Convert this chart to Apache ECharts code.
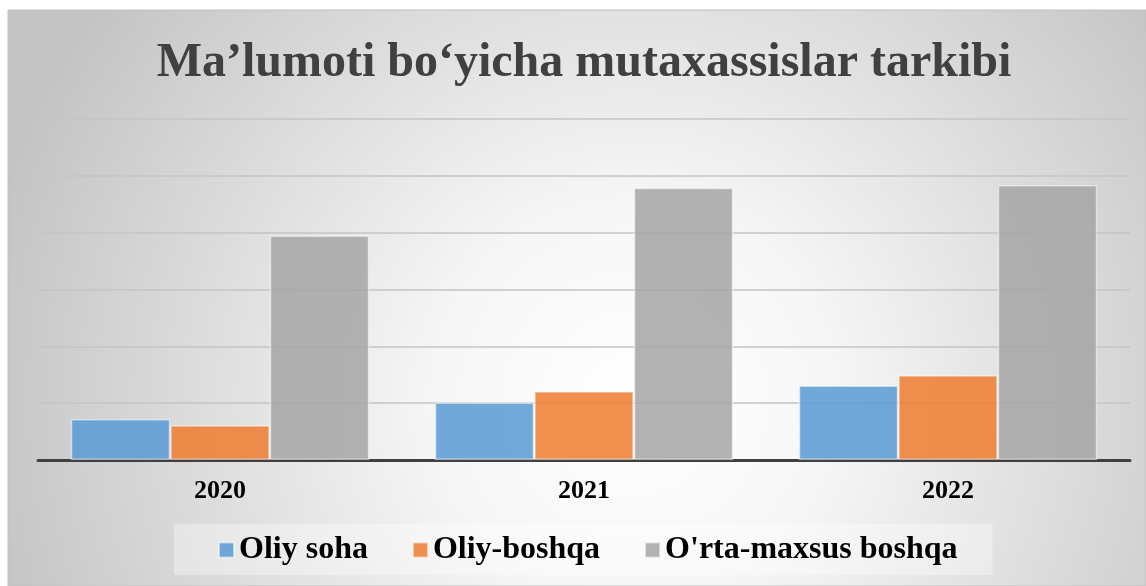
<!DOCTYPE html>
<html>
<head>
<meta charset="utf-8">
<script src="https://cdn.jsdelivr.net/npm/echarts@6/dist/echarts.min.js"></script>
<style>
html,body{margin:0;padding:0;background:#ffffff;}
#chart{width:1146px;height:586px;}
</style>
</head>
<body>
<div id="chart"></div>
<script>
const titleText = "Ma\u2019lumoti bo\u2018yicha mutaxassislar tarkibi";
const categories = ["2020", "2021", "2022"];
const seriesNames = ["Oliy soha", "Oliy-boshqa", "O'rta-maxsus boshqa"];
const oliySoha = [0.72, 1.01, 1.31];
const oliyBoshqa = [0.61, 1.21, 1.49];
const ortaMaxsus = [3.95, 4.79, 4.84];
const seriesColors = ["#5B9BD5", "#ED7D31", "#A5A5A5"];

const chart = echarts.init(document.getElementById('chart'), null, {renderer: 'canvas'});
const serif = "'Liberation Serif', 'Times New Roman', serif";
const values = [oliySoha, oliyBoshqa, ortaMaxsus];

chart.setOption({
  animation: false,
  backgroundColor: 'transparent',
  color: seriesColors,
  graphic: [{
    type: 'rect',
    z: -10,
    silent: true,
    shape: {x: 8, y: 10, width: 1138, height: 576},
    style: {
      fill: {
        type: 'radial', x: 0.55, y: 0.68, r: 1.15,
        colorStops: [
          {offset: 0, color: '#ffffff'},
          {offset: 0.3, color: '#f6f6f6'},
          {offset: 1, color: '#c4c4c4'}
        ]
      },
      stroke: '#c0c0c0',
      lineWidth: 1
    }
  }],
  title: {
    text: titleText,
    left: 579,
    textAlign: 'center',
    top: 35,
    textStyle: {fontFamily: serif, fontWeight: 'bold', fontSize: 48, color: '#404040'}
  },
  legend: {
    data: seriesNames,
    bottom: 11,
    left: 174,
    icon: 'rect',
    itemWidth: 15,
    itemHeight: 15,
    itemGap: 44,
    padding: [10, 35, 9, 44],
    backgroundColor: 'rgba(255,255,255,0.35)',
    textStyle: {fontFamily: serif, fontWeight: 'bold', fontSize: 32, color: '#000000'}
  },
  grid: {left: 38, right: 16, top: 119, bottom: 126, containLabel: false},
  xAxis: {
    type: 'category',
    data: categories,
    axisTick: {show: false},
    axisLine: {lineStyle: {color: '#404040', width: 3}},
    axisLabel: {fontFamily: serif, fontWeight: 'bold', fontSize: 26, color: '#000000', margin: 18}
  },
  yAxis: {
    type: 'value',
    min: 0, max: 6, interval: 1,
    axisLabel: {show: false},
    axisLine: {show: false},
    axisTick: {show: false},
    splitLine: {lineStyle: {color: '#c4c4c4', width: 1.5}}
  },
  series: seriesNames.map((name, i) => ({
    name: name,
    type: 'bar',
    data: values[i],
    barGap: '0%',
    barCategoryGap: '18%',
    itemStyle: {
      color: seriesColors[i],
      opacity: 0.86,
      borderColor: 'rgba(255,255,255,0.6)',
      borderWidth: 1.5
    }
  }))
});
</script>
</body>
</html>
